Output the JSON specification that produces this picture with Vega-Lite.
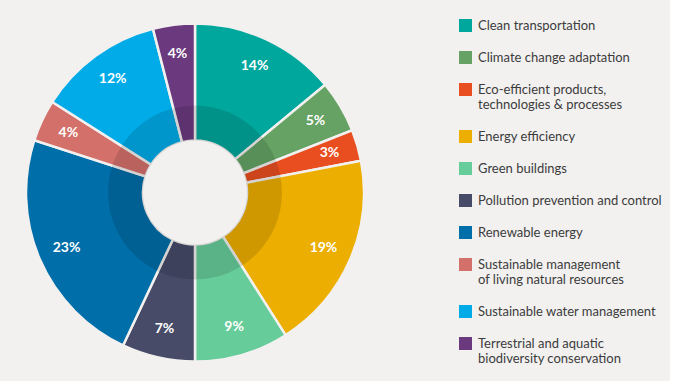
{
  "$schema": "https://vega.github.io/schema/vega-lite/v6.json",
  "width": 390,
  "height": 377,
  "autosize": {"type": "none"},
  "padding": {"left": 0, "top": 4, "right": 280, "bottom": 0},
  "background": "#f2f1f0",
  "config": {"view": {"stroke": null}},
  "data": {
    "values": [
      {"category": "Clean transportation", "value": 14, "label": "14%"},
      {"category": "Climate change adaptation", "value": 5, "label": "5%"},
      {"category": "Eco-efficient products, technologies & processes", "value": 3, "label": "3%"},
      {"category": "Energy efficiency", "value": 19, "label": "19%"},
      {"category": "Green buildings", "value": 9, "label": "9%"},
      {"category": "Pollution prevention and control", "value": 7, "label": "7%"},
      {"category": "Renewable energy", "value": 23, "label": "23%"},
      {"category": "Sustainable management of living natural resources", "value": 4, "label": "4%"},
      {"category": "Sustainable water management", "value": 12, "label": "12%"},
      {"category": "Terrestrial and aquatic biodiversity conservation", "value": 4, "label": "4%"}
    ]
  },
  "layer": [
    {
      "mark": {"type": "arc", "outerRadius": 169, "innerRadius": 52, "stroke": "#f2f1f0", "strokeWidth": 2.5},
      "encoding": {
        "theta": {"field": "value", "type": "quantitative", "stack": true},
        "order": {"field": "category", "type": "ordinal"},
        "color": {
          "field": "category",
          "type": "nominal",
          "scale": {
            "domain": [
              "Clean transportation",
              "Climate change adaptation",
              "Eco-efficient products, technologies & processes",
              "Energy efficiency",
              "Green buildings",
              "Pollution prevention and control",
              "Renewable energy",
              "Sustainable management of living natural resources",
              "Sustainable water management",
              "Terrestrial and aquatic biodiversity conservation"
            ],
            "range": ["#00a79d", "#65a263", "#e84e1f", "#ecae00", "#66cc99", "#474b68", "#006ea8", "#d4706a", "#00abe8", "#6b3a7e"]
          },
          "legend": {
            "orient": "none",
            "legendX": 459,
            "legendY": 15,
            "title": null,
            "padding": 0,
            "symbolType": "square",
            "symbolSize": 169,
            "symbolStrokeWidth": 0,
            "symbolOpacity": 1,
            "labelFont": "Lato",
            "labelFontSize": 13,
            "labelColor": "#3c3c3c",
            "labelOffset": 6,
            "labelLimit": 300,
            "rowPadding": 18,
            "labelBaseline": "middle",
            "labelExpr": "datum.label == 'Eco-efficient products, technologies & processes' ? ['Eco-efficient products,', 'technologies & processes'] : datum.label == 'Sustainable management of living natural resources' ? ['Sustainable management', 'of living natural resources'] : datum.label == 'Terrestrial and aquatic biodiversity conservation' ? ['Terrestrial and aquatic', 'biodiversity conservation'] : datum.label",
            "encode": {"labels": {"update": {"dy": {"signal": "length(datum.label) > 40 ? 8 : 0"}, "lineHeight": {"value": 16}}}}
          }
        }
      }
    },
    {
      "transform": [{"aggregate": [{"op": "sum", "field": "value", "as": "total"}]}],
      "mark": {"type": "arc", "outerRadius": 87, "innerRadius": 52, "fill": "black", "fillOpacity": 0.12},
      "encoding": {"theta": {"field": "total", "type": "quantitative"}}
    },
    {
      "mark": {"type": "text", "radius": 140, "font": "Lato", "fontWeight": "bold", "fontSize": 14, "fill": "white"},
      "encoding": {
        "theta": {"field": "value", "type": "quantitative", "stack": true},
        "order": {"field": "category", "type": "ordinal"},
        "text": {"field": "label", "type": "nominal"}
      }
    }
  ]
}
